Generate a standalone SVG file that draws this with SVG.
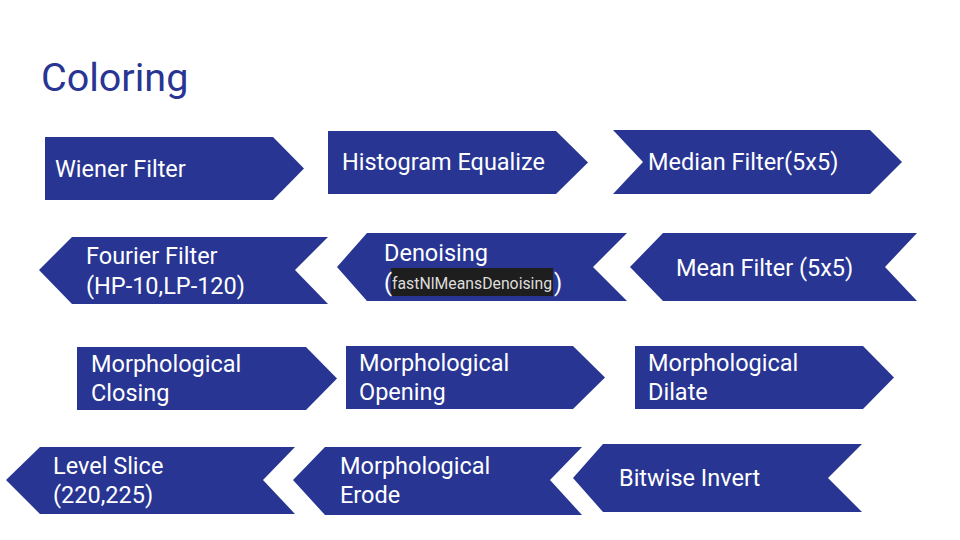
<svg xmlns="http://www.w3.org/2000/svg" width="960" height="540" viewBox="0 0 960 540">
<style>
.s{fill:#283593}
.t{font-family:Roboto,"Liberation Sans",sans-serif;font-size:23.5px;fill:#ffffff}
.h{font-family:Roboto,"Liberation Sans",sans-serif;font-size:39.5px;fill:#283593}
.c{font-family:Roboto,"Liberation Sans",sans-serif;font-size:15.8px;fill:#dddddd}
</style>
<rect width="960" height="540" fill="#ffffff"/>
<text class="h" x="41" y="91">Coloring</text>
<g id="connectors"/>
<g id="n1"><polygon class="s" points="45,137 273,137 304,168.5 273,200 45,200"/><text class="t" x="55" y="177">Wiener Filter</text></g>
<g id="n2"><polygon class="s" points="328,131 556,131 588,162.5 556,194 328,194"/><text class="t" x="342" y="170">Histogram Equalize</text></g>
<g id="n3"><polygon class="s" points="613,130 870,130 902,162 870,194 613,194 643,162"/><text class="t" x="648" y="170">Median Filter(5x5)</text></g>
<g id="n4"><polygon class="s" points="39,270 72,237 328,237 295,270 328,304 72,304"/><text class="t" x="86" y="264">Fourier Filter</text><text class="t" x="86" y="294">(HP-10,LP-120)</text></g>
<g id="n5"><polygon class="s" points="337,267 367,233 627,233 593,267 627,301 367,301"/><text class="t" x="384" y="261">Denoising</text><rect x="391" y="268" width="162" height="28" fill="#1e1e1e"/><text class="t" x="384" y="291">(</text><text class="c" x="392" y="289">fastNlMeansDenoising</text><text class="t" x="554" y="291">)</text></g>
<g id="n6"><polygon class="s" points="630,267 663,233 917,233 885,267 917,301 663,301"/><text class="t" x="676" y="276">Mean Filter (5x5)</text></g>
<g id="n7"><polygon class="s" points="77,347 306,347 337,378.5 306,410 77,410"/><text class="t" x="91" y="372">Morphological</text><text class="t" x="91" y="401">Closing</text></g>
<g id="n8"><polygon class="s" points="346,346 573,346 605,377.5 573,409 346,409"/><text class="t" x="359" y="371">Morphological</text><text class="t" x="359" y="400">Opening</text></g>
<g id="n9"><polygon class="s" points="635,346 863,346 894,377.5 863,409 635,409"/><text class="t" x="648" y="371">Morphological</text><text class="t" x="648" y="400">Dilate</text></g>
<g id="n10"><polygon class="s" points="6,480 40,447 295,447 263,480 295,514 40,514"/><text class="t" x="53" y="474">Level Slice</text><text class="t" x="53" y="503">(220,225)</text></g>
<g id="n11"><polygon class="s" points="293,480 325,447 582,447 550,480 582,515 325,515"/><text class="t" x="340" y="474">Morphological</text><text class="t" x="340" y="503">Erode</text></g>
<g id="n12"><polygon class="s" points="573,478 603,444 862,444 828,478 862,512 603,512"/><text class="t" x="619" y="486">Bitwise Invert</text></g>
</svg>
